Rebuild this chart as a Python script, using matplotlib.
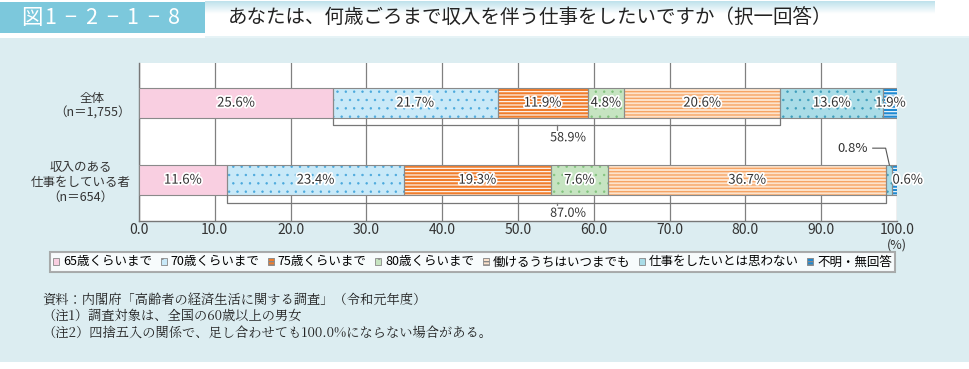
import numpy as np
import matplotlib
matplotlib.use("Agg")
import matplotlib.pyplot as plt
from matplotlib.patches import Rectangle, Patch
import matplotlib.patheffects as pe

plt.rcParams['font.family'] = ['Noto Sans CJK JP', 'DejaVu Sans']

# ---- data ----
groups = ["全体\n（n＝1,755）", "収入のある\n仕事をしている者\n（n＝654）"]
categories = ["65歳くらいまで", "70歳くらいまで", "75歳くらいまで", "80歳くらいまで",
              "働けるうちはいつまでも", "仕事をしたいとは思わない", "不明・無回答"]
total_vals = [25.6, 21.7, 11.9, 4.8, 20.6, 13.6, 1.9]
worker_vals = [11.6, 23.4, 19.3, 7.6, 36.7, 0.8, 0.6]
bracket_sums = ["58.9%", "87.0%"]
xticks = [0, 10, 20, 30, 40, 50, 60, 70, 80, 90, 100]

title_num = ["図", "1", "−", "2", "−", "1", "−", "8"]
title = "あなたは、何歳ごろまで収入を伴う仕事をしたいですか（択一回答）"
notes = ["資料：内閣府「高齢者の経済生活に関する調査」（令和元年度）",
         "（注1）調査対象は、全国の60歳以上の男女",
         "（注2）四捨五入の関係で、足し合わせても100.0%にならない場合がある。"]

# face color, hatch color, hatch, hatch linewidth
styles = [
    ("#f9cfe1", None, None, 1.0),
    ("#c9e9f8", "#4aa8dc", "..", 0.5),
    ("#f07d2c", "#ffffff", "-----", 0.8),
    ("#c6e4c1", "#82c27e", "..", 0.5),
    ("#fde3cc", "#f6a464", "-----", 1.0),
    ("#a9dce7", "#3c9cba", "..", 0.5),
    ("#1f8ad2", "#ffffff", "-----", 0.8),
]

fig = plt.figure(figsize=(9.7, 3.69), dpi=100)

# background layer in pixel coordinates
bg = fig.add_axes([0, 0, 1, 1], zorder=0)
bg.set_xlim(0, 970)
bg.set_ylim(369, 0)
bg.axis("off")
bg.add_patch(Rectangle((0, 38), 970, 324, color="#dcedf1", lw=0))
grad = np.linspace(0, 1, 20).reshape(-1, 1)
cmap = matplotlib.colors.LinearSegmentedColormap.from_list("g", ["#bfe2ec", "#ffffff"])
bg.imshow(grad, extent=(205, 935, 14, 1), cmap=cmap, aspect="auto", zorder=1)
bg.add_patch(Rectangle((205, 36), 765, 2, color="#e6f3f6", lw=0))
bg.add_patch(Rectangle((0, 2), 205, 31, color="#7cc8dc", lw=0, zorder=2))
for i, ch in enumerate(title_num):
    xc = 32 if i == 0 else 50 + (i - 1) * 20.6
    bg.text(xc, 18, ch, color="white", fontsize=15.5, ha="center", va="center", zorder=3)
bg.text(228, 18, title, color="#222222", fontsize=14, ha="left", va="center", zorder=3)
for i, line in enumerate(notes):
    bg.text(42, 300 + i * 16.6, line, fontsize=9.5, ha="left", va="center", color="#222222",
            family=["Noto Serif CJK JP", "Noto Sans CJK JP", "DejaVu Sans"])

# ---- chart ----
ax = fig.add_axes([139 / 970, 1 - 221 / 369, 758 / 970, 158 / 369], zorder=2)
ax.set_facecolor("white")
ypos = [1, 0]
h = 0.39
for y, vals in zip(ypos, [total_vals, worker_vals]):
    left = 0
    for v, (fc, hc, ht, hlw) in zip(vals, styles):
        with plt.rc_context({"hatch.linewidth": hlw}):
            ax.barh(y, v, left=left, height=h, color=fc, edgecolor=hc if hc else fc,
                    linewidth=0, hatch=ht, zorder=3)
        ax.barh(y, v, left=left, height=h, fill=False, edgecolor="#8a8a8a",
                linewidth=0.8, zorder=4)
        left += v

halo = [pe.withStroke(linewidth=2.5, foreground="white")]


def seg_label(x, y, s, ha="center"):
    ax.text(x, y, s, ha=ha, va="center", fontsize=9.5, color="#333333",
            path_effects=halo, zorder=6)


for y, vals in zip(ypos, [total_vals, worker_vals]):
    cum = np.cumsum([0] + vals)
    for i, v in enumerate(vals):
        if y == 0 and i >= 5:
            continue
        seg_label((cum[i] + cum[i + 1]) / 2, y, f"{v:.1f}%")

# small segments of second bar
cum2 = np.cumsum([0] + worker_vals)
ax.plot([96.8, 98.5, (cum2[5] + cum2[6]) / 2], [0.415, 0.415, h / 2],
        color="#555555", lw=0.8, zorder=6)
ax.text(96.2, 0.415, f"{worker_vals[5]:.1f}%", ha="right", va="center",
        fontsize=9.5, color="#333333", zorder=6)
seg_label(99.4, 0, f"{worker_vals[6]:.1f}%", ha="left")


# brackets
def bracket(x0, x1, ytop, ybot, ytick, label, ylab):
    mid = (x0 + x1) / 2
    ax.plot([x0, x0, x1, x1], [ytop, ybot, ybot, ytop], color="#777777",
            lw=0.9, zorder=5, solid_joinstyle="round")
    ax.plot([mid, mid], [ybot, ytick], color="#777777", lw=0.9, zorder=5)
    ax.text(mid + 1.5, ylab, label, ha="center", va="center", fontsize=9,
            color="#333333", path_effects=halo, zorder=6)


cum1 = np.cumsum([0] + total_vals)
bracket(cum1[1], cum1[5], 1 - h / 2, 0.71, 0.65, bracket_sums[0], 0.55)
bracket(cum2[1], cum2[5], -h / 2, -0.30, -0.36, bracket_sums[1], -0.43)

ax.set_xlim(0, 100)
ax.set_ylim(-0.53, 1.52)
ax.set_xticks(xticks)
ax.set_xticklabels([f"{t:.1f}" for t in xticks], fontsize=10, color="#333333")
ax.xaxis.grid(True, color="#808080", lw=0.9, zorder=1)
ax.set_axisbelow(True)
ax.tick_params(axis="x", length=0, pad=1.5)
ax.set_yticks(ypos)
ax.set_yticklabels(groups, fontsize=9, color="#333333", linespacing=1.2)
for lab in ax.get_yticklabels():
    lab.set_multialignment("center")
ax.tick_params(axis="y", length=0, pad=6)
for s in ["top", "right"]:
    ax.spines[s].set_visible(False)
for s in ["left", "bottom"]:
    ax.spines[s].set_color("#777777")
    ax.spines[s].set_linewidth(1.0)
ax.text(100, -0.84, "(%)", ha="center", va="center", fontsize=9, color="#333333")

# legend
handles = []
for fc, hc, ht, hlw in styles:
    with plt.rc_context({"hatch.linewidth": hlw}):
        handles.append(Patch(facecolor=fc, edgecolor=hc if hc else fc, hatch=ht, linewidth=0.6))
leg = fig.legend(handles, categories, loc="center", ncol=7, mode="expand",
                 bbox_to_anchor=(50 / 970, 1 - 272 / 369, 845 / 970, 20 / 369),
                 fontsize=9, frameon=True, fancybox=False, handlelength=0.5,
                 handleheight=0.5, handletextpad=0.3, columnspacing=0.8,
                 borderpad=0.25, borderaxespad=0)
leg.get_frame().set_edgecolor("#999999")
leg.get_frame().set_linewidth(1.5)
for hnd in leg.legend_handles:
    hnd.set_edgecolor("#888888")

fig.savefig("out.png", dpi=100)
